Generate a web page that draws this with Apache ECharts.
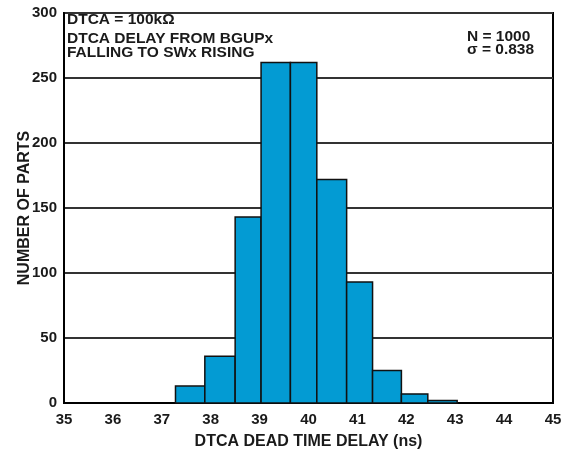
<!DOCTYPE html>
<html>
<head>
<meta charset="utf-8">
<script src="https://cdn.jsdelivr.net/npm/echarts@6/dist/echarts.min.js"></script>
<style>
html,body{margin:0;padding:0;background:#fff;}
#chart{width:570px;height:452px;}
</style>
</head>
<body>
<div id="chart"></div>
<script>
// Histogram bins (ns) and counts
var binStart = [37.28, 37.88, 38.50, 39.03, 39.63, 40.17, 40.78, 41.31, 41.90, 42.44];
var binEnd   = [37.88, 38.50, 39.03, 39.63, 40.17, 40.78, 41.31, 41.90, 42.44, 43.04];
var counts   = [13, 36, 143, 262, 262, 172, 93, 25, 7, 2];

var xTicks = [35, 36, 37, 38, 39, 40, 41, 42, 43, 44, 45];
var yTicks = [0, 50, 100, 150, 200, 250, 300];

var xTitle = 'DTCA DEAD TIME DELAY (ns)';
var yTitle = 'NUMBER OF PARTS';
var noteLeft = ['DTCA = 100kΩ', 'DTCA DELAY FROM BGUPx', 'FALLING TO SWx RISING'];
var noteRight = ['N = 1000', 'σ = 0.838'];

var FONT = '"Liberation Sans", Arial, sans-serif';

var data = binStart.map(function (s, i) { return [s, binEnd[i], counts[i]]; });

var chart = echarts.init(document.getElementById('chart'), null, {renderer: 'canvas'});

function note(txt, x, y) {
  return {type: 'text', x: x, y: y, style: {text: txt, fontFamily: FONT, fontWeight: 'bold', fontSize: 15.5,
    fill: '#1a1a1a', textAlign: 'left', textVerticalAlign: 'middle'}};
}

chart.setOption({
  animation: false,
  backgroundColor: '#ffffff',
  grid: {left: 64, right: 17, top: 13, bottom: 49, show: true, borderColor: '#000', borderWidth: 2,
         containLabel: false, outerBoundsMode: 'none'},
  xAxis: {
    type: 'value',
    min: xTicks[0], max: xTicks[xTicks.length - 1], interval: 1,
    name: xTitle, nameLocation: 'middle', nameGap: 31, nameMoveOverlap: false,
    nameTextStyle: {fontFamily: FONT, fontWeight: 'bold', fontSize: 16, color: '#1a1a1a'},
    axisLine: {show: true, lineStyle: {color: '#000', width: 2}},
    axisTick: {show: false},
    splitLine: {show: false},
    axisLabel: {fontFamily: FONT, fontWeight: 'bold', fontSize: 15, color: '#1a1a1a', margin: 9}
  },
  yAxis: {
    type: 'value',
    min: yTicks[0], max: yTicks[yTicks.length - 1], interval: 50,
    name: yTitle, nameLocation: 'middle', nameGap: 31, nameMoveOverlap: false,
    nameTextStyle: {fontFamily: FONT, fontWeight: 'bold', fontSize: 16, color: '#1a1a1a'},
    axisLine: {show: true, lineStyle: {color: '#000', width: 2}},
    axisTick: {show: false},
    splitLine: {show: true, lineStyle: {color: '#333', width: 2}},
    axisLabel: {fontFamily: FONT, fontWeight: 'bold', fontSize: 15, color: '#1a1a1a', margin: 7}
  },
  series: [{
    type: 'custom',
    data: data,
    encode: {x: [0, 1], y: 2},
    renderItem: function (params, api) {
      var p0 = api.coord([api.value(0), api.value(2)]);
      var p1 = api.coord([api.value(1), 0]);
      return {
        type: 'rect',
        shape: {x: p0[0], y: p0[1], width: p1[0] - p0[0], height: p1[1] - p0[1]},
        style: {fill: '#039BD3', stroke: '#111', lineWidth: 1.5}
      };
    }
  }],
  graphic: [
    note(noteLeft[0], 67, 20),
    note(noteLeft[1], 67, 39),
    note(noteLeft[2], 67, 53),
    note(noteRight[0], 467, 36.5),
    note(noteRight[1], 467, 49.5)
  ]
});
</script>
</body>
</html>
